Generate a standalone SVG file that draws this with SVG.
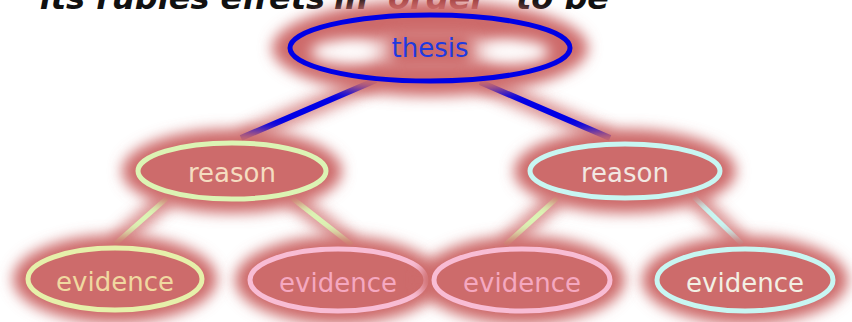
<svg xmlns="http://www.w3.org/2000/svg" width="852" height="322" viewBox="0 0 852 322">
<style>
.top{font-family:"DejaVu Sans",Verdana,sans-serif;font-style:italic;font-weight:bold;font-size:32px;fill:#111}
.lbl{font-family:"DejaVu Sans",Verdana,sans-serif;font-size:26px;text-anchor:middle}
.glow{fill:#cd6a6a;filter:url(#blur)}
.body{fill:#cd6b6b}
.ring{fill:none;stroke-width:5}
.halo{stroke:#cd6a6a;stroke-width:18;fill:none;filter:url(#blur);opacity:0.75}
.cn{fill:none;stroke-linecap:butt}
</style>
<defs>
<filter id="blur" x="-30%" y="-50%" width="160%" height="200%"><feGaussianBlur stdDeviation="7"/></filter>
<filter id="soft" x="-50%" y="-80%" width="200%" height="260%"><feGaussianBlur stdDeviation="7"/></filter>
</defs>
<rect width="852" height="322" fill="#ffffff"/>
<text class="top" y="9"><tspan x="325" text-anchor="end">its rubles effets</tspan></text>
<text class="top" y="9"><tspan x="334">in</tspan><tspan x="388" fill="#8a3030">order</tspan><tspan x="516">to be</tspan></text>
<g id="connectors">
<g class="halo">
<line x1="376" y1="80" x2="241" y2="138"/>
<line x1="480" y1="82" x2="610" y2="138"/>
<line x1="167" y1="198" x2="115" y2="244"/>
<line x1="292" y1="198" x2="352" y2="245"/>
<line x1="557" y1="198" x2="505" y2="245"/>
<line x1="694" y1="197" x2="742" y2="244"/>
</g>
<line class="cn" x1="376" y1="80" x2="241" y2="138" stroke="#0000e6" stroke-width="6"/>
<line class="cn" x1="480" y1="82" x2="610" y2="138" stroke="#0000e6" stroke-width="6"/>
<line class="cn" x1="167" y1="198" x2="115" y2="244" stroke="#dcf4b4" stroke-width="5"/>
<line class="cn" x1="292" y1="198" x2="352" y2="245" stroke="#dcf4b4" stroke-width="5"/>
<line class="cn" x1="557" y1="198" x2="505" y2="245" stroke="#dcf4b4" stroke-width="5"/>
<line class="cn" x1="694" y1="197" x2="742" y2="244" stroke="#c8f6f2" stroke-width="5"/>
</g>
<g id="thesis">
<ellipse class="glow" cx="430" cy="48" rx="158" ry="48"/>
<ellipse cx="345" cy="52" rx="34" ry="12" fill="#ffffff" filter="url(#soft)"/>
<ellipse cx="515" cy="52" rx="34" ry="12" fill="#ffffff" filter="url(#soft)"/>
<ellipse cx="430" cy="50" rx="90" ry="14" fill="#ffffff" opacity="0.6" filter="url(#soft)"/>
<rect x="390" y="32" width="82" height="36" rx="8" fill="#cd6a6a" filter="url(#blur)"/>
<ellipse class="ring" cx="430" cy="48" rx="140" ry="33" stroke="#0000e6" stroke-width="6"/>
<text class="lbl" x="430" y="57" fill="#1e3ae0">thesis</text>
</g>
<g id="reason-left">
<ellipse class="glow" cx="232" cy="171" rx="110" ry="42"/>
<ellipse class="body" cx="232" cy="171" rx="94" ry="28"/>
<ellipse class="ring" cx="232" cy="171" rx="94" ry="28" stroke="#dcf4b4"/>
<text class="lbl" x="232" y="182" fill="#f5dcc0">reason</text>
</g>
<g id="reason-right">
<ellipse class="glow" cx="625" cy="171" rx="111" ry="42"/>
<ellipse class="body" cx="625" cy="171" rx="95" ry="27"/>
<ellipse class="ring" cx="625" cy="171" rx="95" ry="27" stroke="#c8f6f2"/>
<text class="lbl" x="625" y="182" fill="#f2e8e2">reason</text>
</g>
<g id="evidence-1">
<ellipse class="glow" cx="115" cy="279" rx="102" ry="44"/>
<ellipse class="body" cx="115" cy="279" rx="87" ry="31"/>
<ellipse class="ring" cx="115" cy="279" rx="87" ry="31" stroke="#e6f0aa"/>
<text class="lbl" x="115" y="291" fill="#f0d8a0">evidence</text>
</g>
<g id="evidence-2">
<ellipse class="glow" cx="338" cy="280" rx="103" ry="44"/>
<ellipse class="body" cx="338" cy="280" rx="88" ry="31"/>
<ellipse class="ring" cx="338" cy="280" rx="88" ry="31" stroke="#f8bcd4"/>
<text class="lbl" x="338" y="292" fill="#f5a8c0">evidence</text>
</g>
<g id="evidence-3">
<ellipse class="glow" cx="522" cy="280" rx="103" ry="44"/>
<ellipse class="body" cx="522" cy="280" rx="88" ry="31"/>
<ellipse class="ring" cx="522" cy="280" rx="88" ry="31" stroke="#f8bcd4"/>
<text class="lbl" x="522" y="292" fill="#f5a8c0">evidence</text>
</g>
<g id="evidence-4">
<ellipse class="glow" cx="745" cy="280" rx="103" ry="44"/>
<ellipse class="body" cx="745" cy="280" rx="88" ry="31"/>
<ellipse class="ring" cx="745" cy="280" rx="88" ry="31" stroke="#c8f6f2"/>
<text class="lbl" x="745" y="292" fill="#f2f0e4">evidence</text>
</g>
</svg>
